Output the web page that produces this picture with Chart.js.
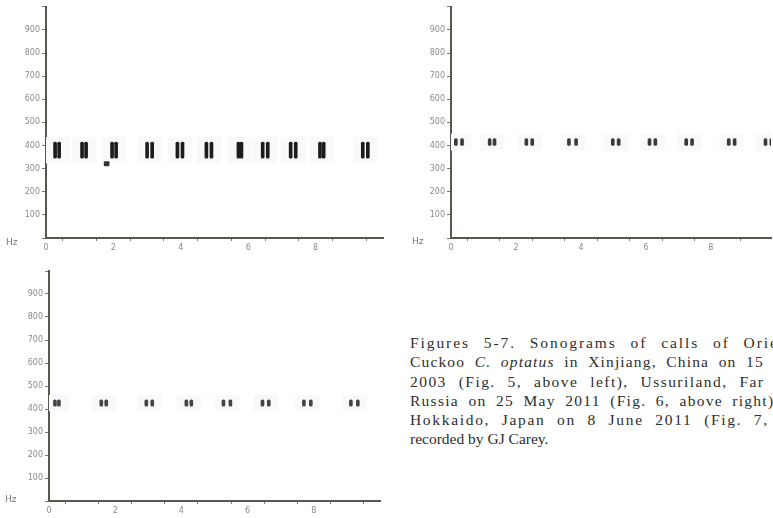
<!DOCTYPE html>
<html>
<head>
<meta charset="utf-8">
<script src="https://cdn.jsdelivr.net/npm/chart.js@4.4.0/dist/chart.umd.min.js"></script>
<style>
    html, body { margin: 0; padding: 0; background: #fff; width: 773px; height: 518px; overflow: hidden; }
    body { position: relative; }
    canvas { position: absolute; }
    #fig5 { left: 0; top: 0; }
    #fig6 { left: 390px; top: 0; }
    #fig7 { left: 0; top: 262px; }
    #didascalia { position: absolute; left: 410px; top: 333px; font-family: "Liberation Serif", serif; font-size: 15.5px; line-height: 19.25px; color: #2e2e2e; }
    #didascalia div { white-space: nowrap; }
</style>
</head>
<body>
<canvas id="fig5" width="390" height="256"></canvas>
<canvas id="fig6" width="383" height="256"></canvas>
<canvas id="fig7" width="390" height="256"></canvas>

<div id="didascalia">
    <div data-vis="Figures 5-7. Sonograms of calls of Orie" data-w="367">Figures 5-7. Sonograms of calls of Oriental</div>
    <div data-vis="Cuckoo C. optatus in Xinjiang, China on 15" data-w="352">Cuckoo <i>C. optatus</i> in Xinjiang, China on 15 June</div>
    <div data-vis="2003 (Fig. 5, above left), Ussuriland, Far" data-w="353">2003 (Fig. 5, above left), Ussuriland, Far East</div>
    <div data-vis="Russia on 25 May 2011 (Fig. 6, above right)" data-w="363">Russia on 25 May 2011 (Fig. 6, above right) and</div>
    <div data-vis="Hokkaido, Japan on 8 June 2011 (Fig. 7," data-w="357">Hokkaido, Japan on 8 June 2011 (Fig. 7, left),</div>
    <div>recorded by GJ Carey.</div>
</div>

<script>
// tempi (s) delle note, a coppie
var fig5Times = [0.27, 0.39, 1.07, 1.19, 1.96, 2.08, 3.00, 3.15, 3.90, 4.05, 4.76, 4.91, 5.71, 5.80, 6.43, 6.58, 7.26, 7.41, 8.13, 8.24, 9.40, 9.55];
var fig5Band = [345, 415]; // Hz min / max di ogni nota
var fig5ExtraTimes = [1.80]; // la macchiolina sotto la terza coppia
var fig5ExtraBand = [312, 330];

var fig6Times = [0.15, 0.34, 1.19, 1.34, 2.32, 2.50, 3.63, 3.85, 4.98, 5.16, 6.11, 6.29, 7.24, 7.42, 8.55, 8.73, 9.68, 9.86];
var fig6Band = [400, 430];

var fig7Times = [0.18, 0.30, 1.58, 1.73, 2.94, 3.12, 4.15, 4.30, 5.27, 5.48, 6.45, 6.64, 7.70, 7.91, 9.12, 9.33];
var fig7Band = [412, 440];

// assi
var yTicks = [100, 200, 300, 400, 500, 600, 700, 800, 900];
var xTicks = [0, 2, 4, 6, 8];


function toBars(times, band) {
    var out = [];
    for (var i = 0; i < times.length; i++) {
        out.push({ x: times[i], y: [band[0], band[1]] });
    }
    return out;
}

// alone chiaro attorno a ogni coppia (rumore dello spettrogramma)
function toHalo(times, band) {
    var out = [];
    for (var i = 0; i + 1 < times.length; i += 2) {
        out.push({ x: (times[i] + times[i + 1]) / 2, y: [band[0] - 20, band[1] + 20] });
    }
    return out;
}

function makePanel(id, cfg) {
    var ctx = document.getElementById(id);

    var datasets = [
        {
            data: toHalo(cfg.times, cfg.band),
            backgroundColor: "#f8f9fa",
            barThickness: 24,
            grouped: false,
            order: 3
        },
        {
            data: toBars(cfg.times, cfg.band),
            backgroundColor: cfg.color,
            barThickness: cfg.noteWidth,
            borderRadius: 2,
            borderSkipped: false,
            grouped: false,
            order: 1
        }
    ];
    if (cfg.extra) {
        datasets.push({
            data: toBars(cfg.extra.times, cfg.extra.band),
            backgroundColor: "#333",
            barThickness: 5,
            borderRadius: 1,
            borderSkipped: false,
            grouped: false,
            order: 0
        });
    }

    var hzLabel = {
        id: "hz",
        afterDraw: function (chart) {
            var c = chart.ctx;
            c.save();
            c.font = "9px 'DejaVu Sans'";
            c.fillStyle = "#777";
            c.textBaseline = "middle";
            c.fillText("Hz", cfg.hz[0], cfg.hz[1]);
            c.restore();
        }
    };

    return new Chart(ctx, {
        type: "bar",
        data: { datasets: datasets },
        plugins: [hzLabel],
        options: {
            responsive: false,
            devicePixelRatio: 1,
            animation: false,
            layout: { padding: { top: cfg.top, right: cfg.right, left: 0, bottom: 0 } },
            plugins: { legend: { display: false }, tooltip: { enabled: false } },
            scales: {
                x: {
                    type: "linear",
                    offset: false,
                    min: 0,
                    max: cfg.xMax,
                    grid: { drawOnChartArea: false, drawTicks: true, tickLength: 3, color: "#777" },
                    border: { display: true, color: "#5b5550", width: 2 },
                    ticks: {
                        stepSize: 1,
                        autoSkip: false,
                        maxRotation: 0,
                        padding: 2,
                        color: "#8a8a8a",
                        font: { size: 8, family: "DejaVu Sans" },
                        callback: function (v) { return xTicks.indexOf(v) >= 0 ? String(v) : ""; }
                    },
                    afterFit: function (s) { s.height = cfg.xHeight; }
                },
                y: {
                    min: 0,
                    max: 1000,
                    grid: { drawOnChartArea: false, drawTicks: true, tickLength: 4, color: "#777" },
                    border: { display: true, color: "#5b5550", width: 2 },
                    ticks: {
                        stepSize: 100,
                        padding: 2,
                        color: "#8a8a8a",
                        font: { size: 8, family: "DejaVu Sans" },
                        callback: function (v) { return yTicks.indexOf(v) >= 0 ? String(v) : ""; }
                    },
                    afterFit: function (s) { s.width = cfg.left; }
                }
            }
        }
    });
}

makePanel("fig5", {
    times: fig5Times, band: fig5Band, color: "#1c1c1c", noteWidth: 3,
    extra: { times: fig5ExtraTimes, band: fig5ExtraBand },
    left: 46, top: 5, right: 7, xHeight: 18, xMax: 10, hz: [6, 243]
});

makePanel("fig6", {
    times: fig6Times, band: fig6Band, color: "#3a3a3a", noteWidth: 3,
    left: 61, top: 5, right: 0, xHeight: 18, xMax: 9.85, hz: [22, 242]
});

makePanel("fig7", {
    times: fig7Times, band: fig7Band, color: "#474343", noteWidth: 3,
    left: 49, top: 9, right: 10, xHeight: 17, xMax: 10, hz: [5, 238]
});

// didascalia giustificata: allarga le lettere finché la parte visibile arriva al bordo
var misura = document.createElement("canvas").getContext("2d");
misura.font = "15.5px 'Liberation Serif'";
var righe = document.querySelectorAll("#didascalia div[data-vis]");
for (var r = 0; r < righe.length; r++) {
    var vis = righe[r].getAttribute("data-vis");
    var target = parseFloat(righe[r].getAttribute("data-w"));
    var w = misura.measureText(vis).width;
    var spazio = (target - w) / (vis.length - 1);
    righe[r].style.letterSpacing = (spazio * 0.6).toFixed(2) + "px";
    var nSpazi = vis.split(" ").length - 1;
    righe[r].style.wordSpacing = ((target - w - spazio * 0.6 * (vis.length - 1)) / nSpazi).toFixed(2) + "px";
}
</script>
</body>
</html>
